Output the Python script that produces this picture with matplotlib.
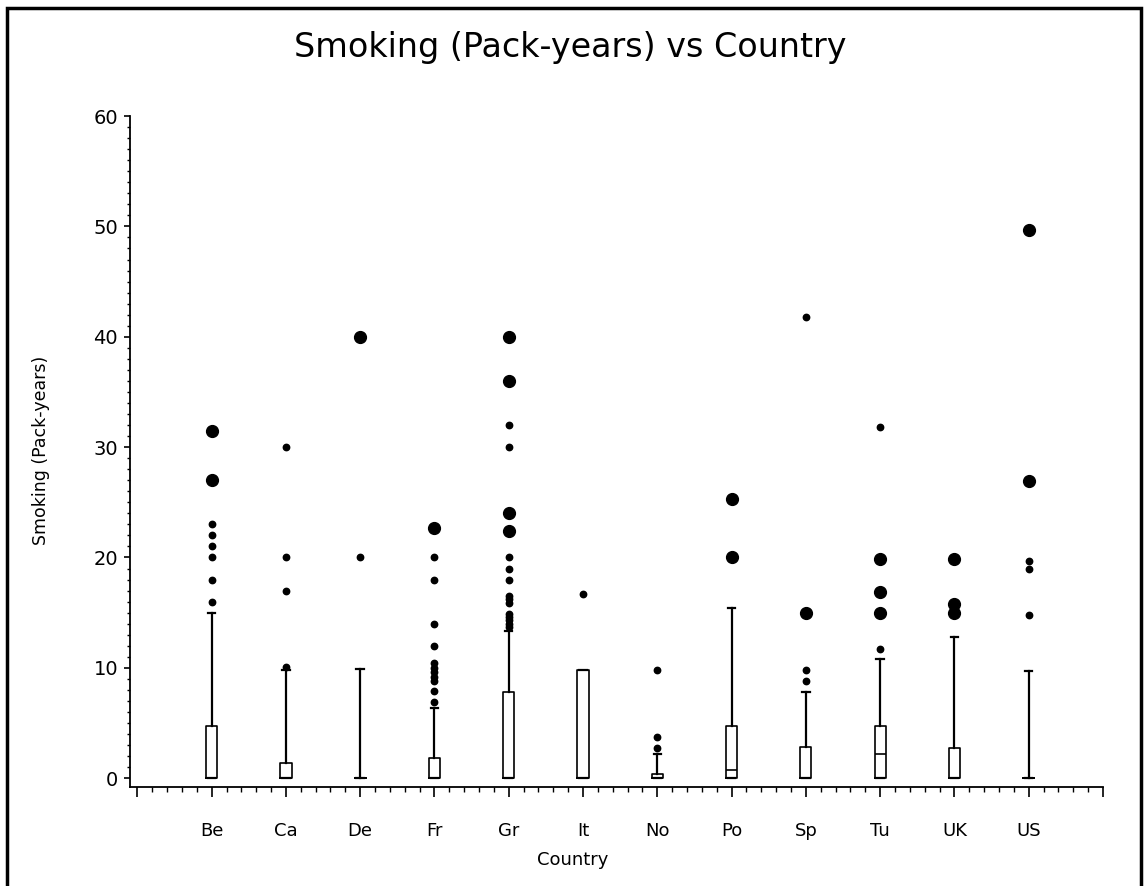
import matplotlib
matplotlib.use('Agg')
import matplotlib.pyplot as plt
import numpy as np
from matplotlib.patches import Rectangle
from matplotlib.ticker import MultipleLocator, FixedLocator

# Box summaries (pack-years)
countries = ['Be', 'Ca', 'De', 'Fr', 'Gr', 'It', 'No', 'Po', 'Sp', 'Tu', 'UK', 'US']
q1 = [0, 0, 0, 0, 0, 0, 0, 0, 0, 0, 0, 0]
med = [0, 0, 0, 0, 0, 0, 0, 0.7, 0, 2.2, 0, 0]
q3 = [4.7, 1.4, 0, 1.8, 7.8, 9.8, 0.35, 4.7, 2.8, 4.7, 2.7, 0]
whislo = [0, 0, 0, 0, 0, 0, 0, 0, 0, 0, 0, 0]
whishi = [15.0, 9.8, 9.9, 6.35, 13.35, 9.8, 2.2, 15.4, 7.8, 10.8, 12.8, 9.7]

# outliers: small star-like dots
small_out = [
    [16, 18, 20, 21, 22, 23],
    [10.1, 17, 20, 30],
    [20],
    [6.9, 7.9, 8.8, 9.2, 9.6, 10.0, 10.4, 12, 14, 18, 20],
    [13.7, 14.0, 14.3, 14.6, 14.9, 15.9, 16.2, 16.5, 18, 19, 20, 30, 32],
    [16.7],
    [2.7, 3.7, 9.8],
    [],
    [8.8, 9.8, 41.8],
    [11.7, 31.8],
    [],
    [14.8, 19, 19.7],
]
# outliers: large dots
big_out = [
    [27, 31.5],
    [],
    [40],
    [22.7],
    [22.4, 24, 36, 40],
    [],
    [],
    [20, 25.3],
    [15],
    [15, 16.9, 19.9],
    [15, 15.8, 19.9],
    [26.9, 49.7],
]

fig = plt.figure(figsize=(11.47, 8.86), dpi=100)
ax = fig.add_axes([0.1133, 0.1117, 0.8483, 0.7573])

positions = np.arange(1, len(countries) + 1)
stats = []
for i in range(len(countries)):
    stats.append({'label': countries[i], 'q1': q1[i], 'med': med[i], 'q3': q3[i],
                  'whislo': whislo[i], 'whishi': whishi[i], 'fliers': small_out[i]})

ax.bxp(stats, positions=positions, widths=0.15, capwidths=0.1,
       boxprops=dict(color='black', linewidth=1.2),
       whiskerprops=dict(color='black', linewidth=1.6),
       capprops=dict(color='black', linewidth=1.6),
       medianprops=dict(color='black', linewidth=1.2),
       flierprops=dict(marker='o', markersize=4.6, markerfacecolor='black',
                       markeredgecolor='black'))

for i in range(len(countries)):
    if big_out[i]:
        ax.plot([positions[i]] * len(big_out[i]), big_out[i], 'o', color='black',
                markersize=8.5)

ax.set_xlim(-0.1, 13)
ax.set_ylim(-0.8, 60)
ax.spines['top'].set_visible(False)
ax.spines['right'].set_visible(False)
ax.spines['left'].set_linewidth(1.3)
ax.spines['bottom'].set_linewidth(1.3)

ax.xaxis.set_major_locator(FixedLocator(list(range(0, 14))))
ax.set_xticklabels([''] + countries + [''])
ax.xaxis.set_minor_locator(MultipleLocator(0.2))
ax.yaxis.set_major_locator(MultipleLocator(10))
ax.yaxis.set_minor_locator(MultipleLocator(1))

ax.tick_params(axis='x', which='major', direction='out', length=7, width=1.2,
               labelsize=13, pad=18)
ax.tick_params(axis='x', which='minor', direction='out', length=3.5, width=1.0)
ax.tick_params(axis='y', which='major', direction='out', length=4.5, width=1.2,
               labelsize=14, pad=4)
ax.tick_params(axis='y', which='minor', direction='out', length=2, width=1.0)

ax.set_xlabel('Country', fontsize=13)
ax.xaxis.set_label_coords(0.455, -0.095)
ax.set_ylabel('Smoking (Pack-years)', fontsize=12.5)
ax.yaxis.set_label_coords(-0.082, 0.502)

fig.text(0.497, 0.946, 'Smoking (Pack-years) vs Country', fontsize=24,
         ha='center', va='center')

# outer frame
fig.patches.append(Rectangle((0.006, -0.02), 0.989, 1.011, transform=fig.transFigure,
                             fill=False, edgecolor='black', linewidth=2.5))

plt.savefig('out.png', dpi=100)
